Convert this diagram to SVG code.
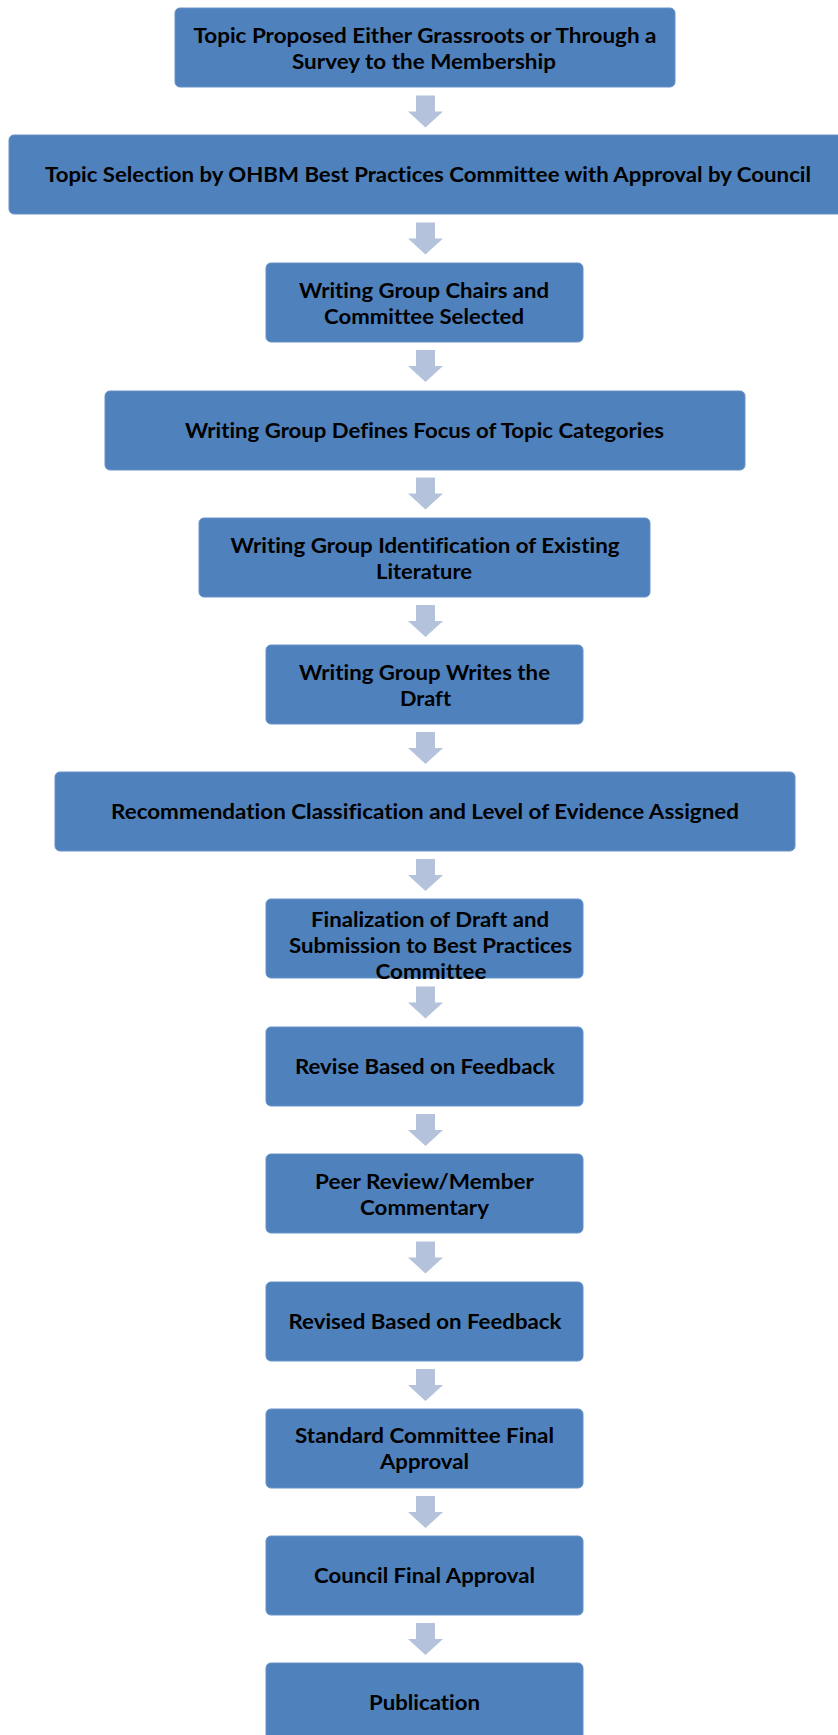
<svg xmlns="http://www.w3.org/2000/svg" xmlns:xlink="http://www.w3.org/1999/xlink" width="838" height="1735" viewBox="0 0 838 1735">
<style>
.box{fill:#4F81BD;stroke:#6792C8;stroke-width:1}
.t{font-family:Lato,"Liberation Sans",sans-serif;font-weight:bold;font-size:21px;fill:#000;text-anchor:middle;font-variant-ligatures:none}
.arr{fill:#B4C3DB}
</style>
<defs>
<path id="ar" d="M-9.5,0 H9.5 V16 H17.5 L0,32 L-17.5,16 H-9.5 Z"/>
</defs>
<rect width="838" height="1735" fill="#fff"/>
<g id="connectors" class="arr">
<use xlink:href="#ar" transform="translate(425.5,95.5)"/>
<use xlink:href="#ar" transform="translate(425.5,222.5)"/>
<use xlink:href="#ar" transform="translate(425.5,350)"/>
<use xlink:href="#ar" transform="translate(425.5,477.5)"/>
<use xlink:href="#ar" transform="translate(425.5,605)"/>
<use xlink:href="#ar" transform="translate(425.5,732)"/>
<use xlink:href="#ar" transform="translate(425.5,859)"/>
<use xlink:href="#ar" transform="translate(425.5,986.5)"/>
<use xlink:href="#ar" transform="translate(425.5,1114)"/>
<use xlink:href="#ar" transform="translate(425.5,1241.5)"/>
<use xlink:href="#ar" transform="translate(425.5,1369)"/>
<use xlink:href="#ar" transform="translate(425.5,1496)"/>
<use xlink:href="#ar" transform="translate(425.5,1623)"/>
</g>
<g id="n1"><rect class="box" x="175" y="8" width="500" height="79" rx="5"/>
<text class="t" x="425" y="43" textLength="463" lengthAdjust="spacingAndGlyphs">Topic Proposed Either Grassroots or Through a</text>
<text class="t" x="424" y="69" textLength="264" lengthAdjust="spacingAndGlyphs">Survey to the Membership</text></g>
<g id="n2"><rect class="box" x="9" y="135" width="840" height="79" rx="5"/>
<text class="t" x="428" y="182" textLength="766" lengthAdjust="spacingAndGlyphs">Topic Selection by OHBM Best Practices Committee with Approval by Council</text></g>
<g id="n3"><rect class="box" x="266" y="263" width="317" height="79" rx="5"/>
<text class="t" x="424" y="298" textLength="250" lengthAdjust="spacingAndGlyphs">Writing Group Chairs and</text>
<text class="t" x="424" y="324" textLength="200" lengthAdjust="spacingAndGlyphs">Committee Selected</text></g>
<g id="n4"><rect class="box" x="105" y="391" width="640" height="79" rx="5"/>
<text class="t" x="424.5" y="438" textLength="479" lengthAdjust="spacingAndGlyphs">Writing Group Defines Focus of Topic Categories</text></g>
<g id="n5"><rect class="box" x="199" y="518" width="451" height="79" rx="5"/>
<text class="t" x="425" y="553" textLength="389" lengthAdjust="spacingAndGlyphs">Writing Group Identification of Existing</text>
<text class="t" x="424" y="579" textLength="96" lengthAdjust="spacingAndGlyphs">Literature</text></g>
<g id="n6"><rect class="box" x="266" y="645" width="317" height="79" rx="5"/>
<text class="t" x="424.5" y="680" textLength="251" lengthAdjust="spacingAndGlyphs">Writing Group Writes the</text>
<text class="t" x="425.5" y="706" textLength="51" lengthAdjust="spacingAndGlyphs">Draft</text></g>
<g id="n7"><rect class="box" x="55" y="772" width="740" height="79" rx="5"/>
<text class="t" x="425" y="819" textLength="628" lengthAdjust="spacingAndGlyphs">Recommendation Classification and Level of Evidence Assigned</text></g>
<g id="n8"><rect class="box" x="266" y="899" width="317" height="79" rx="5"/>
<text class="t" x="430" y="927" textLength="238" lengthAdjust="spacingAndGlyphs">Finalization of Draft and</text>
<text class="t" x="430.5" y="953" textLength="283" lengthAdjust="spacingAndGlyphs">Submission to Best Practices</text>
<text class="t" x="431" y="979" textLength="111" lengthAdjust="spacingAndGlyphs">Committee</text></g>
<g id="n9"><rect class="box" x="266" y="1027" width="317" height="79" rx="5"/>
<text class="t" x="425" y="1074" textLength="260" lengthAdjust="spacingAndGlyphs">Revise Based on Feedback</text></g>
<g id="n10"><rect class="box" x="266" y="1154" width="317" height="79" rx="5"/>
<text class="t" x="424.5" y="1189" textLength="219" lengthAdjust="spacingAndGlyphs">Peer Review/Member</text>
<text class="t" x="424.5" y="1215" textLength="129" lengthAdjust="spacingAndGlyphs">Commentary</text></g>
<g id="n11"><rect class="box" x="266" y="1282" width="317" height="79" rx="5"/>
<text class="t" x="425" y="1329" textLength="273" lengthAdjust="spacingAndGlyphs">Revised Based on Feedback</text></g>
<g id="n12"><rect class="box" x="266" y="1409" width="317" height="79" rx="5"/>
<text class="t" x="424.5" y="1443" textLength="259" lengthAdjust="spacingAndGlyphs">Standard Committee Final</text>
<text class="t" x="424.5" y="1469" textLength="89" lengthAdjust="spacingAndGlyphs">Approval</text></g>
<g id="n13"><rect class="box" x="266" y="1536" width="317" height="79" rx="5"/>
<text class="t" x="424.5" y="1583" textLength="221" lengthAdjust="spacingAndGlyphs">Council Final Approval</text></g>
<g id="n14"><rect class="box" x="266" y="1663" width="317" height="79" rx="5"/>
<text class="t" x="424.5" y="1710" textLength="111" lengthAdjust="spacingAndGlyphs">Publication</text></g>
</svg>
